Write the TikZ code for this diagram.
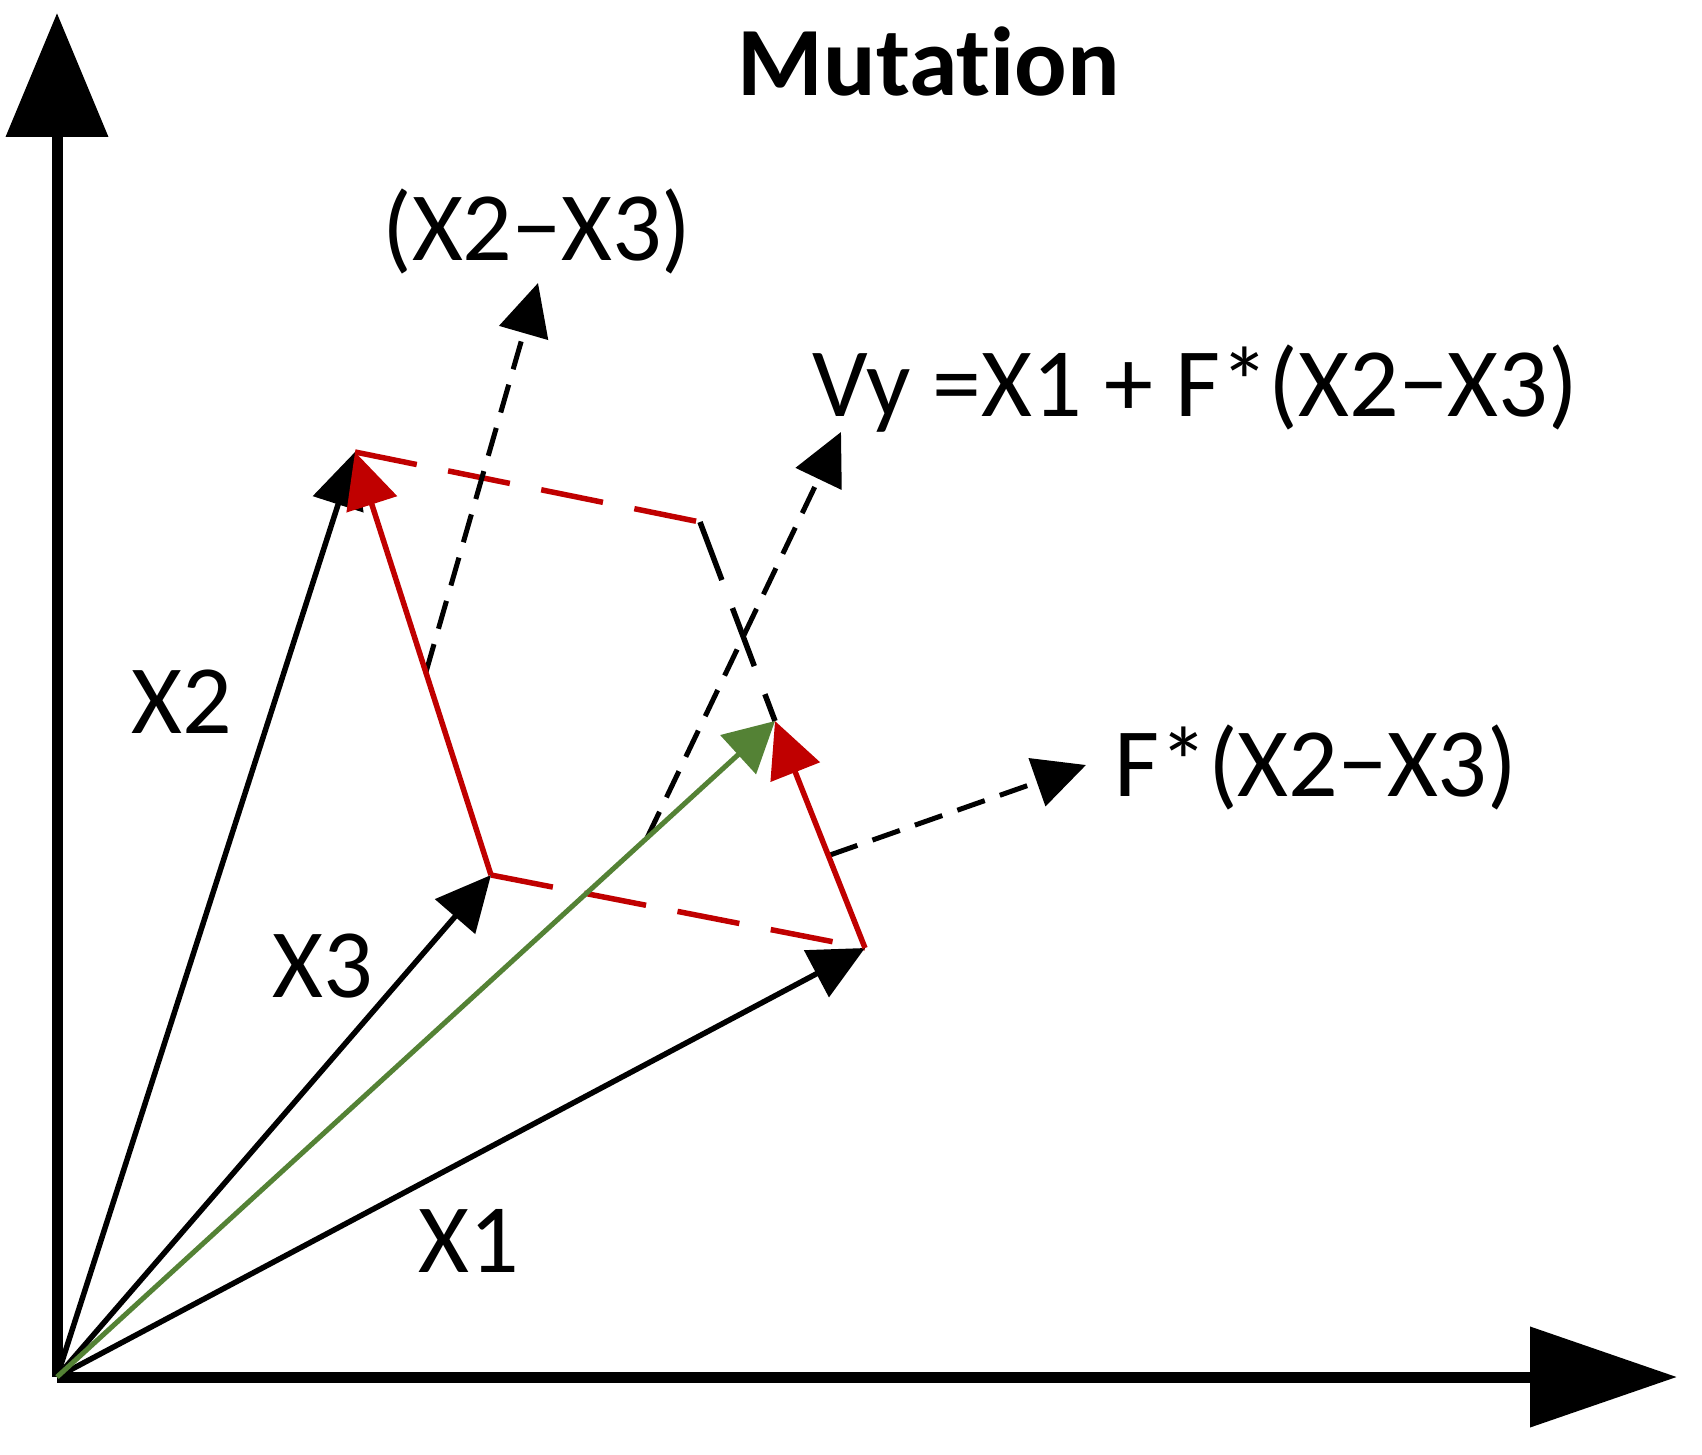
\documentclass[tikz,border=0pt]{standalone}
\usepackage{fontspec}
\setmainfont{Carlito}[Ligatures=NoCommon]
\usetikzlibrary{arrows.meta}
\definecolor{vred}{RGB}{192,0,0}
\definecolor{vgreen}{RGB}{84,130,53}
\begin{document}
\begin{tikzpicture}[x=1pt,y=-1pt,
  lbl/.style={inner sep=0pt, font=\fontsize{98}{118}\selectfont, text=black},
  axisline/.style={line width=11pt, draw=black},
  vec/.style={line width=5.5pt, -{Triangle[length=55pt,width=52pt]}},
  redvec/.style={vec, draw=vred, fill=vred},
  greenvec/.style={line width=5pt, draw=vgreen, -{Triangle[length=50pt,width=52pt,fill=vgreen]}},
  longdash/.style={line width=5.5pt, dash pattern=on 63pt off 32pt},
  pointer/.style={line width=5pt, draw=black, dash pattern=on 29pt off 16pt, -{Triangle[length=52pt,width=50pt]}}
]
\useasboundingbox (0,0) rectangle (1702,1455);
% points
\coordinate (O) at (57,1377);
\coordinate (Ytip) at (57,13);
\coordinate (Xtip) at (1677,1377);
\coordinate (X1) at (865,948);
\coordinate (X2) at (355,452);
\coordinate (X3) at (491,875);
\coordinate (V) at (775,721);
\coordinate (P) at (700,522);
\coordinate (pAs) at (426,672);
\coordinate (pAt) at (538,283);
\coordinate (pVs) at (647,838);
\coordinate (pVt) at (841,432);
\coordinate (pFs) at (830,855);
\coordinate (pFt) at (1086,765);
% axes
\draw[axisline, -{Triangle[length=124pt,width=100pt]}] (O) -- (Ytip);
\draw[axisline, -{Triangle[length=147pt,width=98pt]}] (O) -- (Xtip);
% dashed parallelogram
\draw[longdash, draw=vred] (X2) -- (P);
\draw[longdash, draw=vred] (X3) -- (X1);
\draw[longdash, draw=black, dash pattern=on 62pt off 30pt] (P) -- (V);
% pointers
\draw[pointer] (pAs) -- (pAt);
\draw[pointer] (pVs) -- (pVt);
\draw[pointer] (pFs) -- (pFt);
% vectors
\draw[vec] (O) -- (X2);
\draw[vec] (O) -- (X3);
\draw[vec] (O) -- (X1);
\draw[greenvec] (O) -- (V);
\draw[redvec] (X3) -- (X2);
\draw[redvec] (X1) -- (V);
% labels
\node[lbl, font=\bfseries\fontsize{98}{118}\selectfont, anchor=base] (title) at (929,96) {Mutation};
\node[lbl, anchor=base] (tA) at (537,261) {(X2−X3)};
\node[lbl, anchor=base west] (tV) at (812,416) {Vy =X1 + F*(X2−X3)};
\node[lbl, anchor=base west] (tF) at (1114,796) {F*(X2−X3)};
\node[lbl, anchor=base west] (t2) at (131,733) {X2};
\node[lbl, anchor=base west] (t3) at (272,997) {X3};
\node[lbl, anchor=base west] (t1) at (418,1272) {X1};
\end{tikzpicture}
\end{document}
